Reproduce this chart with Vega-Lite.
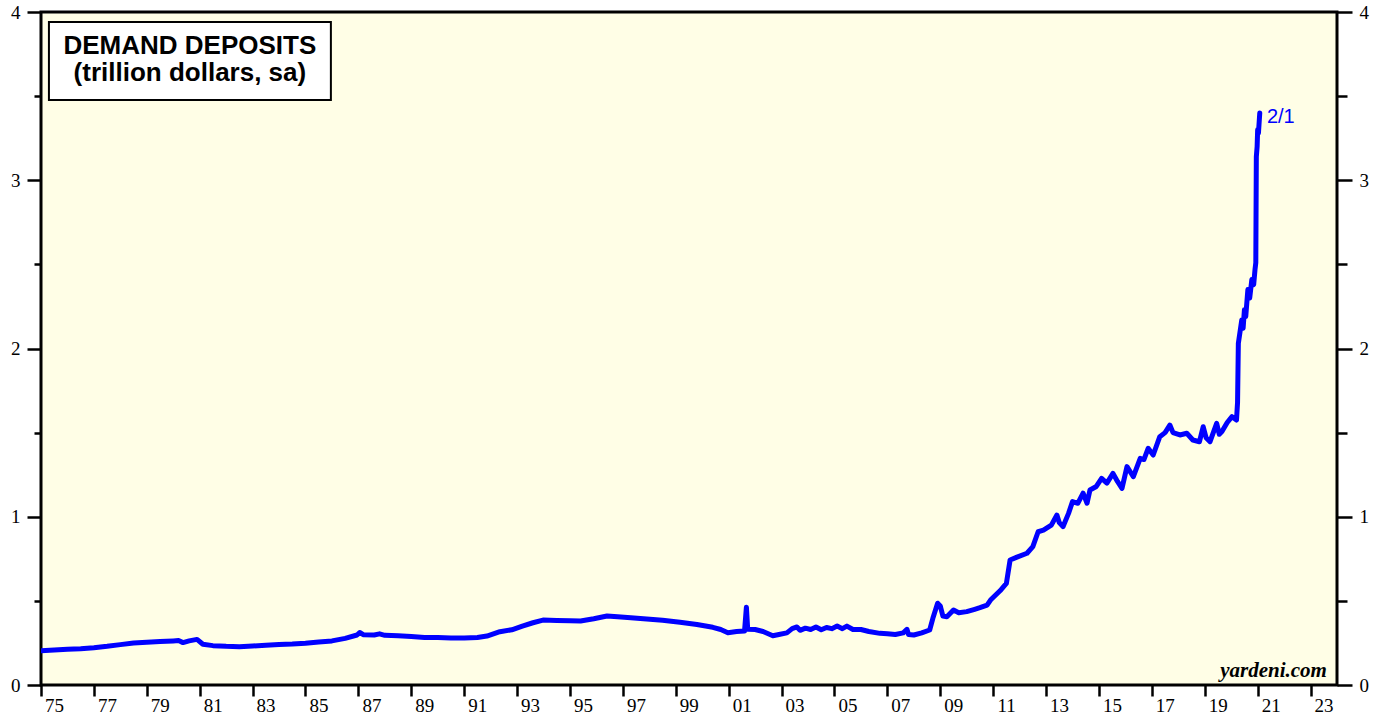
{
  "$schema": "https://vega.github.io/schema/vega-lite/v6.json",
  "width": 1296,
  "height": 673,
  "autosize": "none",
  "padding": {"left": 41, "top": 12, "right": 47, "bottom": 34},
  "background": "white",
  "config": {
    "view": {"stroke": "black", "strokeWidth": 3, "fill": "#FFFEE6"},
    "axis": {"grid": false, "domain": false, "tickColor": "black", "tickWidth": 2.5, "labelColor": "black", "labelFont": "Liberation Serif", "labelFontSize": 19, "title": null}
  },
  "datasets": {
    "dep": [
      {"year": 1975.0, "value": 0.204}, {"year": 1975.5, "value": 0.208}, {"year": 1976.0, "value": 0.212}, {"year": 1976.5, "value": 0.216},
      {"year": 1977.0, "value": 0.222}, {"year": 1977.5, "value": 0.230}, {"year": 1978.0, "value": 0.240}, {"year": 1978.5, "value": 0.250},
      {"year": 1979.0, "value": 0.254}, {"year": 1979.5, "value": 0.258}, {"year": 1980.0, "value": 0.262}, {"year": 1980.2, "value": 0.264},
      {"year": 1980.37, "value": 0.252}, {"year": 1980.6, "value": 0.262}, {"year": 1980.9, "value": 0.271}, {"year": 1981.12, "value": 0.242},
      {"year": 1981.5, "value": 0.234}, {"year": 1982.0, "value": 0.230}, {"year": 1982.5, "value": 0.228}, {"year": 1983.0, "value": 0.232},
      {"year": 1983.5, "value": 0.236}, {"year": 1984.0, "value": 0.240}, {"year": 1984.5, "value": 0.243}, {"year": 1985.0, "value": 0.248},
      {"year": 1985.5, "value": 0.256}, {"year": 1986.0, "value": 0.262}, {"year": 1986.5, "value": 0.277}, {"year": 1986.95, "value": 0.297},
      {"year": 1987.05, "value": 0.312}, {"year": 1987.2, "value": 0.298}, {"year": 1987.6, "value": 0.297}, {"year": 1987.8, "value": 0.304},
      {"year": 1988.0, "value": 0.295}, {"year": 1988.5, "value": 0.292}, {"year": 1989.0, "value": 0.288}, {"year": 1989.5, "value": 0.283},
      {"year": 1990.0, "value": 0.282}, {"year": 1990.5, "value": 0.280}, {"year": 1991.0, "value": 0.279}, {"year": 1991.5, "value": 0.282},
      {"year": 1991.86, "value": 0.291}, {"year": 1992.35, "value": 0.317}, {"year": 1992.8, "value": 0.328}, {"year": 1993.2, "value": 0.350},
      {"year": 1993.6, "value": 0.370}, {"year": 1993.98, "value": 0.386}, {"year": 1994.5, "value": 0.384}, {"year": 1995.0, "value": 0.382},
      {"year": 1995.4, "value": 0.380}, {"year": 1995.9, "value": 0.394}, {"year": 1996.4, "value": 0.410}, {"year": 1996.8, "value": 0.405},
      {"year": 1997.3, "value": 0.400}, {"year": 1997.9, "value": 0.392}, {"year": 1998.5, "value": 0.385}, {"year": 1999.16, "value": 0.373},
      {"year": 1999.8, "value": 0.360}, {"year": 2000.4, "value": 0.343}, {"year": 2000.7, "value": 0.330}, {"year": 2000.97, "value": 0.311},
      {"year": 2001.3, "value": 0.318}, {"year": 2001.6, "value": 0.321}, {"year": 2001.67, "value": 0.462}, {"year": 2001.72, "value": 0.331},
      {"year": 2002.0, "value": 0.330}, {"year": 2002.3, "value": 0.318}, {"year": 2002.67, "value": 0.293}, {"year": 2002.9, "value": 0.300},
      {"year": 2003.2, "value": 0.310}, {"year": 2003.4, "value": 0.335}, {"year": 2003.58, "value": 0.345}, {"year": 2003.7, "value": 0.325},
      {"year": 2003.9, "value": 0.338}, {"year": 2004.1, "value": 0.330}, {"year": 2004.3, "value": 0.345}, {"year": 2004.5, "value": 0.328},
      {"year": 2004.7, "value": 0.342}, {"year": 2004.9, "value": 0.335}, {"year": 2005.1, "value": 0.350}, {"year": 2005.3, "value": 0.335},
      {"year": 2005.47, "value": 0.350}, {"year": 2005.7, "value": 0.330}, {"year": 2006.0, "value": 0.330}, {"year": 2006.3, "value": 0.318},
      {"year": 2006.72, "value": 0.307}, {"year": 2007.0, "value": 0.305}, {"year": 2007.3, "value": 0.300}, {"year": 2007.6, "value": 0.310},
      {"year": 2007.74, "value": 0.331}, {"year": 2007.8, "value": 0.300}, {"year": 2008.0, "value": 0.297}, {"year": 2008.3, "value": 0.310},
      {"year": 2008.6, "value": 0.327}, {"year": 2008.72, "value": 0.396}, {"year": 2008.9, "value": 0.486}, {"year": 2009.0, "value": 0.470},
      {"year": 2009.1, "value": 0.410}, {"year": 2009.25, "value": 0.406}, {"year": 2009.5, "value": 0.446}, {"year": 2009.7, "value": 0.430},
      {"year": 2010.0, "value": 0.436}, {"year": 2010.3, "value": 0.450}, {"year": 2010.5, "value": 0.460}, {"year": 2010.77, "value": 0.475},
      {"year": 2010.9, "value": 0.505}, {"year": 2011.26, "value": 0.560}, {"year": 2011.5, "value": 0.604}, {"year": 2011.64, "value": 0.743},
      {"year": 2011.9, "value": 0.760}, {"year": 2012.28, "value": 0.783}, {"year": 2012.5, "value": 0.822}, {"year": 2012.7, "value": 0.911},
      {"year": 2012.9, "value": 0.920}, {"year": 2013.2, "value": 0.950}, {"year": 2013.41, "value": 1.010}, {"year": 2013.5, "value": 0.965},
      {"year": 2013.64, "value": 0.941}, {"year": 2013.85, "value": 1.020}, {"year": 2014.0, "value": 1.090}, {"year": 2014.2, "value": 1.080},
      {"year": 2014.4, "value": 1.140}, {"year": 2014.55, "value": 1.080}, {"year": 2014.66, "value": 1.159}, {"year": 2014.9, "value": 1.180},
      {"year": 2015.1, "value": 1.228}, {"year": 2015.3, "value": 1.200}, {"year": 2015.53, "value": 1.258}, {"year": 2015.7, "value": 1.210},
      {"year": 2015.87, "value": 1.169}, {"year": 2016.06, "value": 1.298}, {"year": 2016.3, "value": 1.238}, {"year": 2016.56, "value": 1.347},
      {"year": 2016.7, "value": 1.340}, {"year": 2016.86, "value": 1.407}, {"year": 2017.05, "value": 1.367}, {"year": 2017.3, "value": 1.476},
      {"year": 2017.5, "value": 1.500}, {"year": 2017.68, "value": 1.545}, {"year": 2017.8, "value": 1.500}, {"year": 2018.06, "value": 1.486},
      {"year": 2018.32, "value": 1.496}, {"year": 2018.55, "value": 1.456}, {"year": 2018.8, "value": 1.446}, {"year": 2018.94, "value": 1.535},
      {"year": 2019.05, "value": 1.470}, {"year": 2019.2, "value": 1.446}, {"year": 2019.45, "value": 1.555}, {"year": 2019.55, "value": 1.490},
      {"year": 2019.65, "value": 1.506}, {"year": 2019.85, "value": 1.560}, {"year": 2020.03, "value": 1.595}, {"year": 2020.2, "value": 1.575},
      {"year": 2020.24, "value": 1.680}, {"year": 2020.27, "value": 2.030}, {"year": 2020.4, "value": 2.170}, {"year": 2020.45, "value": 2.120},
      {"year": 2020.5, "value": 2.230}, {"year": 2020.55, "value": 2.190}, {"year": 2020.63, "value": 2.350}, {"year": 2020.7, "value": 2.300},
      {"year": 2020.78, "value": 2.410}, {"year": 2020.85, "value": 2.380}, {"year": 2020.9, "value": 2.470}, {"year": 2020.93, "value": 2.510},
      {"year": 2020.95, "value": 3.140}, {"year": 2020.98, "value": 3.200}, {"year": 2021.0, "value": 3.300}, {"year": 2021.03, "value": 3.280},
      {"year": 2021.08, "value": 3.400}
    ],
    "box": [{"x1": 1975.3, "x2": 1985.96, "y1": 3.477, "y2": 3.94}],
    "boxText": [
      {"x": 1980.63, "y": 3.80, "t": "DEMAND DEPOSITS"},
      {"x": 1980.63, "y": 3.635, "t": "(trillion dollars, sa)"}
    ],
    "endLabel": [{"year": 2021.35, "value": 3.373, "t": "2/1"}],
    "credit": [{"year": 2023.62, "value": 0.049, "t": "yardeni.com"}]
  },
  "layer": [
    {
      "data": {"name": "dep"},
      "mark": {"type": "line", "color": "#0000FF", "strokeWidth": 5, "strokeJoin": "round", "strokeCap": "round", "clip": true},
      "encoding": {
        "x": {
          "field": "year", "type": "quantitative",
          "scale": {"domain": [1975, 2024], "nice": false, "zero": false},
          "axis": {
            "orient": "bottom",
            "values": [1975,1976,1977,1978,1979,1980,1981,1982,1983,1984,1985,1986,1987,1988,1989,1990,1991,1992,1993,1994,1995,1996,1997,1998,1999,2000,2001,2002,2003,2004,2005,2006,2007,2008,2009,2010,2011,2012,2013,2014,2015,2016,2017,2018,2019,2020,2021,2022,2023,2024],
            "labelExpr": "(datum.value % 2 == 1 && datum.value < 2024) ? slice(toString(datum.value), 2) : ''",
            "labelOffset": 13,
            "labelOverlap": false,
            "labelBound": false,
            "labelFlush": false,
            "tickSize": 11,
            "labelPadding": 0,
            "labelBaseline": "top"
          }
        },
        "y": {
          "field": "value", "type": "quantitative",
          "scale": {"domain": [0, 4], "nice": false},
          "axis": {
            "orient": "left",
            "values": [0, 0.5, 1, 1.5, 2, 2.5, 3, 3.5, 4],
            "labelExpr": "datum.value % 1 == 0 ? format(datum.value, 'd') : ''",
            "tickSize": {"condition": {"test": "datum.value % 1 == 0", "value": 14}, "value": 7},
            "labelPadding": 7,
            "labelOverlap": false,
            "labelFlush": false
          }
        }
      }
    },
    {
      "data": {"name": "endLabel"},
      "mark": {"type": "text", "color": "#0000FF", "font": "Liberation Sans", "fontSize": 20, "align": "left", "baseline": "middle"},
      "encoding": {
        "x": {"field": "year", "type": "quantitative"},
        "y": {
          "field": "value", "type": "quantitative",
          "axis": {
            "orient": "right",
            "values": [0, 0.5, 1, 1.5, 2, 2.5, 3, 3.5, 4],
            "labelExpr": "datum.value % 1 == 0 ? format(datum.value, 'd') : ''",
            "tickSize": {"condition": {"test": "datum.value % 1 == 0", "value": 15}, "value": 10},
            "labelPadding": 7,
            "labelOverlap": false,
            "labelFlush": false
          }
        },
        "text": {"field": "t"}
      }
    },
    {
      "data": {"name": "box"},
      "mark": {"type": "rect", "fill": "white", "stroke": "black", "strokeWidth": 2},
      "encoding": {
        "x": {"field": "x1", "type": "quantitative"},
        "x2": {"field": "x2"},
        "y": {"field": "y1", "type": "quantitative", "axis": null},
        "y2": {"field": "y2"}
      }
    },
    {
      "data": {"name": "boxText"},
      "mark": {"type": "text", "font": "Liberation Sans", "fontWeight": "bold", "fontSize": 26, "align": "center", "baseline": "middle", "color": "black"},
      "encoding": {
        "x": {"field": "x", "type": "quantitative"},
        "y": {"field": "y", "type": "quantitative", "axis": null},
        "text": {"field": "t"}
      }
    },
    {
      "data": {"name": "credit"},
      "mark": {"type": "text", "font": "Liberation Serif", "fontWeight": "bold", "fontStyle": "italic", "fontSize": 21, "align": "right", "baseline": "alphabetic", "color": "black"},
      "encoding": {
        "x": {"field": "year", "type": "quantitative"},
        "y": {"field": "value", "type": "quantitative", "axis": null},
        "text": {"field": "t"}
      }
    }
  ],
  "resolve": {"axis": {"y": "independent"}}
}
